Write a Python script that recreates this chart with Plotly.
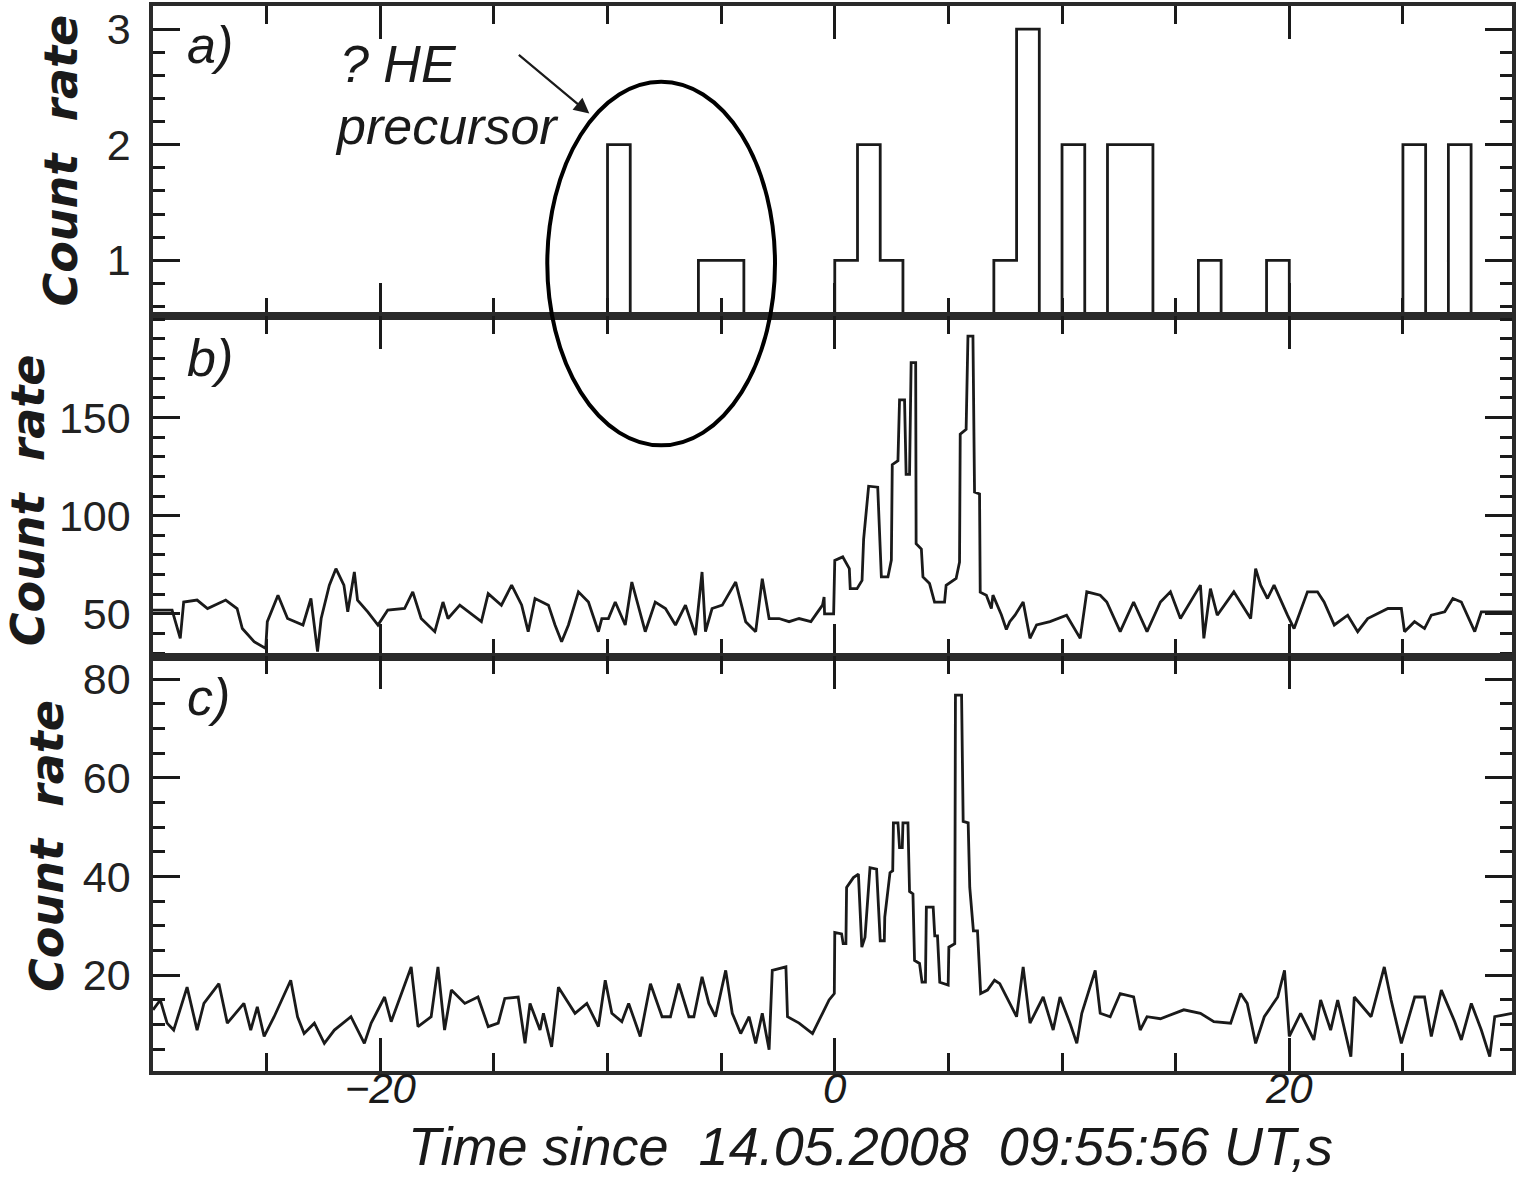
import plotly.graph_objects as go

# ---------------- data ----------------
# panel a: 1-s bins, left edges -30..29, counts
a_bin_start = list(range(-30, 30))
a_counts = [0] * 60
for t0, c in [(-10, 2), (-6, 1), (-5, 1), (0, 1), (1, 2), (2, 1), (7, 1), (8, 3),
              (10, 2), (12, 2), (13, 2), (16, 1), (19, 1), (25, 2), (27, 2)]:
    a_counts[t0 + 30] = c

# panel b: vertices (time, count rate)
b_time = [-30.0, -29.16, -28.8, -28.65, -28.06, -27.6, -26.8, -26.3, -26.07, -25.55, -25.04, -24.97,
          -24.5, -24.08, -23.4, -23.05, -22.76, -22.6, -22.24, -21.95, -21.6, -21.43, -21.14, -21.0,
          -20.55, -20.1, -19.67, -18.93, -18.57, -18.2, -17.6, -17.24, -17.02, -16.5, -15.55, -15.25,
          -14.67, -14.22, -13.78, -13.49, -13.19, -12.6, -12.31, -12.02, -11.72, -11.28, -10.84, -10.4,
          -10.25, -9.96, -9.66, -9.22, -8.93, -8.34, -7.9, -7.45, -7.01, -6.57, -6.13, -5.84, -5.69,
          -5.4, -4.95, -4.36, -3.92, -3.48, -3.19, -2.89, -2.45, -2.01, -1.57, -1.05, -0.54, -0.47,
          -0.45, -0.05, 0.0, 0.35, 0.64, 0.68, 0.98, 1.2, 1.27, 1.49, 1.89, 2.05, 2.34, 2.49, 2.53,
          2.78, 2.85, 3.07, 3.14, 3.29, 3.36, 3.56, 3.58, 3.81, 3.88, 4.17, 4.39, 4.83, 4.9, 5.34,
          5.49, 5.52, 5.78, 5.86, 6.08, 6.15, 6.37, 6.4, 6.67, 6.89, 6.96, 7.33, 7.55, 7.7, 7.93,
          8.29, 8.59, 8.88, 9.47, 10.2, 10.8, 11.09, 11.68, 11.97, 12.56, 13.15, 13.74, 14.33, 14.77,
          15.21, 16.09, 16.24, 16.53, 16.83, 17.56, 18.3, 18.52, 18.74, 19.04, 19.33, 19.92, 20.21,
          20.8, 21.24, 21.53, 21.98, 22.57, 23.01, 23.45, 24.34, 24.93, 25.07, 25.51, 25.95, 26.25,
          26.84, 27.2, 27.57, 28.16, 28.45, 29.19, 29.8]
b_rate = [51.9, 51.9, 37.5, 56, 57, 52.7, 57, 52.7, 42.5, 35.8, 32.4, 46,
          59.5, 47.6, 44.3, 57.8, 30.7, 47.6, 64.6, 73, 64.6, 51, 71.3, 57,
          51, 44.3, 51.9, 52.7, 61.2, 47.6, 40.9, 56, 47.6, 54.4, 46, 60.3,
          54.4, 64.6, 54.5, 40.9, 57.8, 54.4, 44.3, 35.8, 44.3, 61.2, 56, 40.9,
          47.6, 47.6, 56, 44.3, 66.2, 40.9, 56, 52.7, 44.3, 54.4, 39.2, 71.3, 40.9,
          52.7, 54.4, 66.2, 46, 40.9, 67.9, 47.6, 47.6, 46, 47.6, 46, 54.4, 58.6,
          50, 50, 77.2, 79, 73, 62.8, 62.8, 67, 88, 115, 114.5, 68.8, 68.8, 77.4, 126,
          128, 159, 159, 121, 121, 178, 178, 85.7, 83, 68.8, 65.4, 56, 56, 64.5, 68,
          76.4, 141.5, 144, 191.5, 191.5, 112, 111, 61, 59.5, 52.7, 59.5, 49.5, 42, 46, 49.3,
          56, 37.5, 44.3, 46, 49.3, 37.5, 61.2, 59.5, 56, 40.9, 56, 40.9, 56, 61.2,
          47.6, 64.6, 37.5, 62.8, 49.3, 61.2, 47.6, 73, 64.6, 57.8, 64.6, 49.3, 42.5,
          61.2, 61.2, 56, 44.3, 49.3, 40.9, 47.6, 52.7, 52.7, 40.9, 46, 42.5, 49.3,
          51, 57.8, 56, 40.9, 51, 51, 51]

# panel c: vertices (time, count rate)
c_time = [-30.0, -29.68, -29.38, -29.09, -28.5, -28.06, -27.76, -27.1, -26.73, -26.0, -25.7, -25.41,
          -25.11, -24.67, -23.94, -23.64, -23.35, -22.9, -22.46, -22.02, -21.29, -20.7, -20.4, -19.81,
          -19.52, -18.64, -18.34, -17.76, -17.46, -17.17, -16.87, -16.28, -15.7, -15.25, -14.81, -14.52,
          -13.93, -13.63, -13.41, -12.97, -12.82, -12.46, -12.16, -11.43, -10.91, -10.4, -10.1, -9.81,
          -9.37, -9.07, -8.56, -8.11, -7.6, -7.23, -6.87, -6.42, -6.2, -5.84, -5.54, -5.25, -4.8,
          -4.51, -4.14, -3.77, -3.48, -3.19, -2.89, -2.75, -2.15, -2.08, -1.57, -0.98, -0.54, -0.25,
          -0.02, 0.0, 0.3, 0.37, 0.49, 0.52, 0.82, 1.04, 1.19, 1.33, 1.55, 1.84, 2.0, 2.18, 2.2,
          2.43, 2.55, 2.58, 2.78, 2.85, 2.97, 3.0, 3.22, 3.29, 3.44, 3.51, 3.73, 3.84, 3.99, 4.03,
          4.33, 4.4, 4.52, 4.62, 4.99, 5.02, 5.28, 5.31, 5.58, 5.65, 5.87, 5.94, 6.1, 6.28, 6.42,
          6.72, 7.03, 7.26, 8.0, 8.29, 8.59, 9.17, 9.61, 9.91, 10.35, 10.65, 10.87, 11.46, 11.68,
          12.12, 12.56, 13.15, 13.44, 13.74, 14.33, 15.36, 16.09, 16.68, 17.42, 17.86, 18.15, 18.52,
          18.9, 19.49, 19.79, 20.0, 20.5, 21.08, 21.38, 21.82, 22.13, 22.71, 22.86, 23.6, 24.18,
          24.48, 24.93, 25.22, 25.52, 25.95, 26.25, 26.69, 27.28, 27.57, 28.01, 28.45, 28.82, 29.04,
          29.8]
c_rate = [13, 15, 10.3, 8.9, 17.6, 8.9, 14.3, 18.3, 10.3, 14.3, 8.9, 13.6,
          7.6, 11.6, 19, 11.6, 8.2, 10.3, 6.2, 8.9, 11.6, 6.2, 10.3, 15.6,
          10.6, 21.7, 9.6, 11.6, 21.7, 8.9, 17, 14.3, 15.6, 9.6, 10.3, 15.3,
          15.6, 6.2, 14.3, 8.9, 12.3, 5.5, 17.6, 12.3, 14.3, 9.6, 19, 12.3,
          10.6, 14.3, 7.6, 18.3, 11.6, 11.6, 18.3, 11.6, 11.6, 19.7, 14.3, 11.6, 21,
          12.3, 8.2, 11.6, 6.2, 12.3, 4.9, 21, 21.7, 11.6, 10.3, 8.2, 12.3, 15,
          16.3, 28.7, 28.4, 26.4, 26.4, 37.8, 39.8, 40.5, 25.7, 27.7, 41.8, 41.5, 27, 27, 31.8,
          40.8, 41.2, 50.9, 50.9, 45.9, 45.9, 50.9, 50.9, 37, 36.5, 23, 22.4, 18.6, 18.6, 33.8,
          33.8, 28, 28, 18.6, 18, 25.7, 26.4, 76.8, 76.8, 51.2, 50.9, 37.8, 29, 29, 16.3,
          17, 19, 18.3, 11.6, 21.7, 10.3, 15.6, 8.9, 15.6, 10.3, 6.2, 12.3, 21, 12.3,
          11.6, 16.3, 15.6, 8.9, 11.6, 11.2, 13, 12.3, 10.6, 10.3, 16.3, 14.3, 6.2,
          11.6, 15.6, 21, 7.6, 12.3, 6.9, 15, 8.9, 15, 3.5, 15.6, 11.6, 21.7,
          15, 6.2, 10.6, 15.6, 15.6, 7.6, 17, 10.6, 6.9, 14.3, 8.9, 3.5, 11.6,
          12.3]

x_tick_vals = [-20, 0, 20]
x_tick_text = ["\u221220", "0", "20"]
y_title = "Count  rate"
x_title = "Time since  14.05.2008  09:55:56 UT,s"

# ---------------- figure ----------------
INK = "#1a1a1a"
LINE = dict(color=INK, width=2.8)

a_x = a_bin_start + [30]
a_y = a_counts + [a_counts[-1]]

fig = go.Figure()
fig.add_trace(go.Scatter(x=a_x, y=a_y, mode="lines", line=dict(shape="hv", **LINE),
                         xaxis="x", yaxis="y", showlegend=False))
fig.add_trace(go.Scatter(x=b_time, y=b_rate, mode="lines", line=LINE,
                         xaxis="x2", yaxis="y2", showlegend=False))
fig.add_trace(go.Scatter(x=c_time, y=c_rate, mode="lines", line=LINE,
                         xaxis="x3", yaxis="y3", showlegend=False))

FR = dict(showline=True, linewidth=3.5, linecolor="#2a2a2a", mirror="allticks",
          showgrid=False, zeroline=False, ticks="inside", tickcolor=INK)

def xax(anchor, labels):
    d = dict(FR, range=[-30, 29.8], tickmode="array", tickvals=x_tick_vals,
             ticktext=x_tick_text, ticklen=33, tickwidth=3,
             minor=dict(dtick=5, tick0=0, ticks="inside", ticklen=18, tickwidth=3,
                        tickcolor=INK, showgrid=False),
             anchor=anchor, showticklabels=labels)
    if labels:
        d["tickfont"] = dict(family="Liberation Sans, sans-serif",
                             size=42, color=INK, style="italic")
        d["ticklabelstandoff"] = -22
    return d

YFONT = dict(family="Liberation Sans, Arial, sans-serif", size=43, color="#222")

D_A = [0.7091, 1.0]
D_B = [0.3891, 0.7091]
D_C = [0.0, 0.3891]

fig.update_layout(
    width=1518, height=1182,
    margin=dict(l=153, r=5, t=2, b=111),
    paper_bgcolor="white", plot_bgcolor="white",
    xaxis=xax("y", False), xaxis2=xax("y2", False), xaxis3=xax("y3", True),
    yaxis=dict(FR, domain=D_A, range=[0.52, 3.2], dtick=1, tick0=0, ticklen=27, tickwidth=3,
               minor=dict(dtick=0.2, tick0=0, ticks="inside", ticklen=12, tickwidth=3, tickcolor=INK),
               tickfont=YFONT, ticklabelstandoff=10, anchor="x"),
    yaxis2=dict(FR, domain=D_B, range=[28.2, 201.8], tickmode="array", tickvals=[50, 100, 150],
                ticklen=27, tickwidth=3,
                minor=dict(dtick=10, tick0=0, ticks="inside", ticklen=12, tickwidth=3, tickcolor=INK),
                tickfont=YFONT, ticklabelstandoff=10, anchor="x2"),
    yaxis3=dict(FR, domain=D_C, range=[0.6, 84.6], tickmode="array", tickvals=[20, 40, 60, 80],
                ticklen=27, tickwidth=3,
                minor=dict(dtick=5, tick0=0, ticks="inside", ticklen=12, tickwidth=3, tickcolor=INK),
                tickfont=YFONT, ticklabelstandoff=10, anchor="x3"),
)

def px2paper_x(px):
    return (px - 153) / 1360.0

def px2paper_y(py):
    return 1 - (py - 2) / 1069.0

TFONT = dict(family="DejaVu Sans, sans-serif", size=46, color=INK, weight="bold", style="italic")
for cx, cy in [(61, 157), (28, 498), (47, 845)]:
    fig.add_annotation(text=y_title, textangle=-90, x=px2paper_x(cx), y=px2paper_y(cy),
                       xref="paper", yref="paper", xanchor="center", yanchor="middle",
                       showarrow=False, font=TFONT)

LFONT = dict(family="Liberation Sans, Arial, sans-serif", size=52, color=INK, style="italic")
for lab, top in [("a)", 10), ("b)", 324), ("c)", 664)]:
    fig.add_annotation(text=lab, x=px2paper_x(185), y=px2paper_y(top), xref="paper", yref="paper",
                       xanchor="left", yanchor="top", showarrow=False, font=LFONT)

# x-axis title
fig.add_annotation(text=x_title, x=px2paper_x(871), y=px2paper_y(1146), xref="paper", yref="paper",
                   xanchor="center", yanchor="middle", showarrow=False,
                   font=dict(family="Liberation Sans, sans-serif", size=54,
                             color=INK, style="italic"))

# "? HE precursor" annotation
AFONT = dict(family="Liberation Sans, Arial, sans-serif", size=52, color=INK, style="italic")
fig.add_annotation(text="? HE", x=px2paper_x(338), y=px2paper_y(60), xref="paper", yref="paper",
                   xanchor="left", yanchor="middle", showarrow=False, font=AFONT)
fig.add_annotation(text="precursor", x=px2paper_x(333), y=px2paper_y(122), xref="paper", yref="paper",
                   xanchor="left", yanchor="middle", showarrow=False, font=AFONT)
fig.add_annotation(x=-10.8, y=px2paper_y(110), xref="x", yref="paper", text="",
                   showarrow=True, ax=-72, ay=-60, axref="pixel", ayref="pixel",
                   arrowhead=2, arrowsize=1.4, arrowwidth=2.2, arrowcolor=INK)

# ellipse around precursor
fig.add_shape(type="circle", xref="x", yref="paper", x0=-12.65, x1=-2.63,
              y0=px2paper_y(443), y1=px2paper_y(78), line=dict(color="black", width=4))

fig.write_html("out.html")
